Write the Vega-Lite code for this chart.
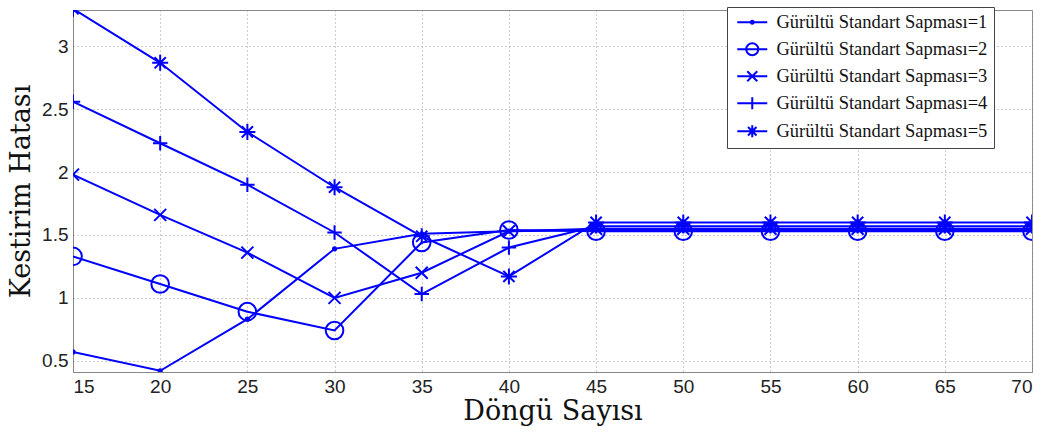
{
  "$schema": "https://vega.github.io/schema/vega-lite/v6.json",
  "autosize": "none",
  "width": 959,
  "height": 362,
  "padding": {"left": 73, "top": 10, "right": 13, "bottom": 61},
  "background": "white",
  "config": {
    "view": {"stroke": "#888", "strokeWidth": 1},
    "axis": {
      "labelFont": "Liberation Sans",
      "labelFontSize": 19,
      "labelColor": "#222",
      "titleFont": "DejaVu Serif",
      "titleFontSize": 27,
      "titleFontWeight": "normal",
      "titleColor": "#111",
      "domainColor": "#888",
      "tickColor": "#888",
      "gridColor": "#999",
      "gridDash": [1, 3],
      "gridOpacity": 1
    }
  },
  "data": {
    "values": [
      {"n": 15, "s": "Gürültü Standart Sapması=1", "v": 0.57},
      {"n": 20, "s": "Gürültü Standart Sapması=1", "v": 0.42},
      {"n": 25, "s": "Gürültü Standart Sapması=1", "v": 0.83},
      {"n": 30, "s": "Gürültü Standart Sapması=1", "v": 1.39},
      {"n": 35, "s": "Gürültü Standart Sapması=1", "v": 1.51},
      {"n": 40, "s": "Gürültü Standart Sapması=1", "v": 1.53},
      {"n": 45, "s": "Gürültü Standart Sapması=1", "v": 1.54},
      {"n": 50, "s": "Gürültü Standart Sapması=1", "v": 1.54},
      {"n": 55, "s": "Gürültü Standart Sapması=1", "v": 1.54},
      {"n": 60, "s": "Gürültü Standart Sapması=1", "v": 1.54},
      {"n": 65, "s": "Gürültü Standart Sapması=1", "v": 1.54},
      {"n": 70, "s": "Gürültü Standart Sapması=1", "v": 1.54},
      {"n": 15, "s": "Gürültü Standart Sapması=2", "v": 1.33},
      {"n": 20, "s": "Gürültü Standart Sapması=2", "v": 1.11},
      {"n": 25, "s": "Gürültü Standart Sapması=2", "v": 0.89},
      {"n": 30, "s": "Gürültü Standart Sapması=2", "v": 0.74},
      {"n": 35, "s": "Gürültü Standart Sapması=2", "v": 1.44},
      {"n": 40, "s": "Gürültü Standart Sapması=2", "v": 1.54},
      {"n": 45, "s": "Gürültü Standart Sapması=2", "v": 1.53},
      {"n": 50, "s": "Gürültü Standart Sapması=2", "v": 1.53},
      {"n": 55, "s": "Gürültü Standart Sapması=2", "v": 1.53},
      {"n": 60, "s": "Gürültü Standart Sapması=2", "v": 1.53},
      {"n": 65, "s": "Gürültü Standart Sapması=2", "v": 1.53},
      {"n": 70, "s": "Gürültü Standart Sapması=2", "v": 1.53},
      {"n": 15, "s": "Gürültü Standart Sapması=3", "v": 1.98},
      {"n": 20, "s": "Gürültü Standart Sapması=3", "v": 1.66},
      {"n": 25, "s": "Gürültü Standart Sapması=3", "v": 1.36},
      {"n": 30, "s": "Gürültü Standart Sapması=3", "v": 1.0},
      {"n": 35, "s": "Gürültü Standart Sapması=3", "v": 1.2},
      {"n": 40, "s": "Gürültü Standart Sapması=3", "v": 1.53},
      {"n": 45, "s": "Gürültü Standart Sapması=3", "v": 1.55},
      {"n": 50, "s": "Gürültü Standart Sapması=3", "v": 1.55},
      {"n": 55, "s": "Gürültü Standart Sapması=3", "v": 1.55},
      {"n": 60, "s": "Gürültü Standart Sapması=3", "v": 1.55},
      {"n": 65, "s": "Gürültü Standart Sapması=3", "v": 1.55},
      {"n": 70, "s": "Gürültü Standart Sapması=3", "v": 1.55},
      {"n": 15, "s": "Gürültü Standart Sapması=4", "v": 2.56},
      {"n": 20, "s": "Gürültü Standart Sapması=4", "v": 2.23},
      {"n": 25, "s": "Gürültü Standart Sapması=4", "v": 1.9},
      {"n": 30, "s": "Gürültü Standart Sapması=4", "v": 1.52},
      {"n": 35, "s": "Gürültü Standart Sapması=4", "v": 1.03},
      {"n": 40, "s": "Gürültü Standart Sapması=4", "v": 1.4},
      {"n": 45, "s": "Gürültü Standart Sapması=4", "v": 1.57},
      {"n": 50, "s": "Gürültü Standart Sapması=4", "v": 1.57},
      {"n": 55, "s": "Gürültü Standart Sapması=4", "v": 1.57},
      {"n": 60, "s": "Gürültü Standart Sapması=4", "v": 1.57},
      {"n": 65, "s": "Gürültü Standart Sapması=4", "v": 1.57},
      {"n": 70, "s": "Gürültü Standart Sapması=4", "v": 1.57},
      {"n": 15, "s": "Gürültü Standart Sapması=5", "v": 3.3},
      {"n": 20, "s": "Gürültü Standart Sapması=5", "v": 2.87},
      {"n": 25, "s": "Gürültü Standart Sapması=5", "v": 2.32},
      {"n": 30, "s": "Gürültü Standart Sapması=5", "v": 1.88},
      {"n": 35, "s": "Gürültü Standart Sapması=5", "v": 1.49},
      {"n": 40, "s": "Gürültü Standart Sapması=5", "v": 1.17},
      {"n": 45, "s": "Gürültü Standart Sapması=5", "v": 1.6},
      {"n": 50, "s": "Gürültü Standart Sapması=5", "v": 1.6},
      {"n": 55, "s": "Gürültü Standart Sapması=5", "v": 1.6},
      {"n": 60, "s": "Gürültü Standart Sapması=5", "v": 1.6},
      {"n": 65, "s": "Gürültü Standart Sapması=5", "v": 1.6},
      {"n": 70, "s": "Gürültü Standart Sapması=5", "v": 1.6}
    ]
  },
  "encoding": {
    "x": {
      "field": "n", "type": "quantitative",
      "scale": {"domain": [15, 70], "nice": false, "zero": false},
      "axis": {"values": [15,20,25,30,35,40,45,50,55,60,65,70], "title": "Döngü Sayısı", "ticks": false, "labelPadding": 5, "titlePadding": 2, "grid": true}
    },
    "y": {
      "field": "v", "type": "quantitative",
      "scale": {"domain": [0.41, 3.29], "nice": false, "zero": false},
      "axis": {"values": [0.5,1,1.5,2,2.5,3], "format": "~g", "title": "Kestirim Hatası", "ticks": false, "labelPadding": 5, "titlePadding": 6, "grid": true}
    }
  },
  "layer": [
    {
      "mark": {"type": "line", "color": "#0000FF", "strokeWidth": 2, "clip": true},
      "encoding": {"detail": {"field": "s"}, "order": {"field": "n"}}
    },
    {
      "mark": {"type": "point", "filled": false, "color": "#0000FF", "strokeWidth": 2, "size": 256, "opacity": 1, "clip": true},
      "encoding": {
        "shape": {
          "field": "s", "type": "nominal",
          "scale": {
            "domain": ["Gürültü Standart Sapması=1", "Gürültü Standart Sapması=2", "Gürültü Standart Sapması=3", "Gürültü Standart Sapması=4", "Gürültü Standart Sapması=5"],
            "range": [
              "M0.2,0A0.2,0.2,0,1,1,-0.2,0A0.2,0.2,0,1,1,0.2,0",
              "M1.1,0A1.1,1.1,0,1,1,-1.1,0A1.1,1.1,0,1,1,1.1,0",
              "M-0.75,-0.75L0.75,0.75M-0.75,0.75L0.75,-0.75",
              "M-0.9,0L0.9,0M0,-0.9L0,0.9",
              "M-1,0L1,0M0,-1L0,1M-0.7,-0.7L0.7,0.7M-0.7,0.7L0.7,-0.7"
            ]
          },
          "legend": null
        }
      }
    },
    {
      "mark": {"type": "point", "filled": false, "color": "#0000FF", "strokeWidth": 2, "size": 0, "opacity": 0, "clip": true},
      "encoding": {
        "shape": {
          "field": "s", "type": "nominal",
          "scale": {
            "domain": ["Gürültü Standart Sapması=1", "Gürültü Standart Sapması=2", "Gürültü Standart Sapması=3", "Gürültü Standart Sapması=4", "Gürültü Standart Sapması=5"],
            "range": [
              "M-3,0L3,0M0.3,0A0.3,0.3,0,1,1,-0.3,0A0.3,0.3,0,1,1,0.3,0",
              "M-3,0L3,0M1.2,0A1.2,1.2,0,1,1,-1.2,0A1.2,1.2,0,1,1,1.2,0",
              "M-3,0L3,0M-1,-1L1,1M-1,1L1,-1",
              "M-3,0L3,0M0,-1.2L0,1.2",
              "M-3,0L3,0M0,-1.2L0,1.2M-0.85,-0.85L0.85,0.85M-0.85,0.85L0.85,-0.85"
            ]
          },
          "legend": {
            "title": null,
            "orient": "none",
            "legendX": 654,
            "legendY": -3,
            "fillColor": "white",
            "strokeColor": "#444",
            "padding": 6,
            "symbolSize": 100,
            "symbolOpacity": 1,
            "symbolOffset": 10,
            "labelOffset": 15,
            "rowPadding": 7,
            "labelLimit": 400,
            "labelFont": "Liberation Serif",
            "labelFontSize": 18.5,
            "labelColor": "#111",
            "symbolStrokeColor": "#0000FF",
            "symbolStrokeWidth": 2,
            "symbolFillColor": "transparent"
          }
        }
      }
    }
  ],
  "resolve": {"scale": {"shape": "independent"}}
}
